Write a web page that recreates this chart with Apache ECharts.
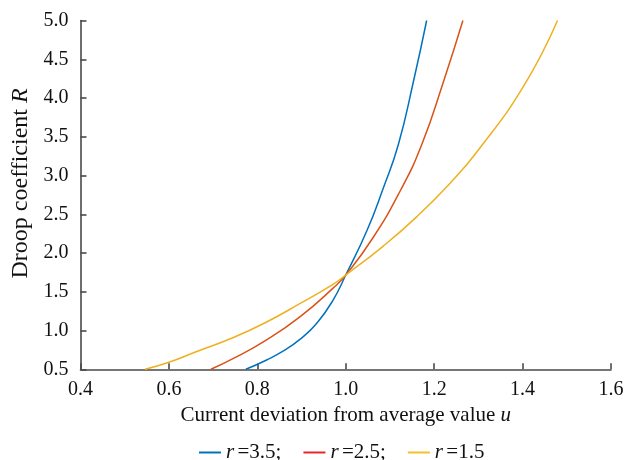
<!DOCTYPE html>
<html>
<head>
<meta charset="utf-8">
<script src="https://cdn.jsdelivr.net/npm/echarts@6/dist/echarts.min.js"></script>
<style>html,body{margin:0;padding:0;background:#fff;}#c{width:630px;height:460px;}</style>
</head>
<body>
<div id="c"></div>
<script>
// u values and R values
const blueU = [0.774, 0.821, 0.86, 0.897, 0.934, 0.972, 1.0, 1.048, 1.085, 1.119, 1.153, 1.183];
const blueR = [0.5, 0.62, 0.74, 0.89, 1.09, 1.40, 1.716, 2.29, 2.84, 3.40, 4.21, 5.0];
const redU = [0.695, 0.746, 0.821, 0.897, 0.972, 1.0, 1.062, 1.123, 1.172, 1.221, 1.265];
const redR = [0.5, 0.64, 0.88, 1.18, 1.55, 1.716, 2.20, 2.80, 3.40, 4.21, 5.0];
const orangeU = [0.546, 0.6, 0.663, 0.746, 0.821, 0.897, 0.972, 1.0, 1.085, 1.161, 1.236, 1.30, 1.402, 1.479];
const orangeR = [0.5, 0.59, 0.73, 0.91, 1.11, 1.35, 1.60, 1.716, 2.09, 2.47, 2.90, 3.33, 4.15, 5.0];
const seriesNames = ['r=3.5', 'r=2.5', 'r=1.5'];
const seriesLabels = ['3.5;', '2.5;', '1.5'];
const colors = ['#0072BD', '#D95319', '#EDB120'];
const legendColors = ['#0072BD', '#E8262A', '#F5C02A'];
const xTicks = {min: 0.4, max: 1.6, interval: 0.2};
const yTicks = {min: 0.5, max: 5.0, interval: 0.5};

const zip = (a, b) => a.map((v, i) => [v, b[i]]);
const datas = [zip(blueU, blueR), zip(redU, redR), zip(orangeU, orangeR)];
const font = 'Liberation Serif';
const axisColor = '#4a4a4a';
const txt = '#111';

const chart = echarts.init(document.getElementById('c'), null, {renderer: 'canvas'});
chart.setOption({
  animation: false,
  backgroundColor: '#fff',
  grid: {left: 80.5, right: 19, top: 20.5, bottom: 90.7, containLabel: false},
  xAxis: {
    type: 'value', min: xTicks.min, max: xTicks.max, interval: xTicks.interval,
    axisLine: {lineStyle: {color: axisColor, width: 1.6}},
    axisTick: {inside: true, length: 6, lineStyle: {color: axisColor, width: 1.6}},
    splitLine: {show: false},
    axisLabel: {color: txt, fontFamily: font, fontSize: 20, margin: 10, formatter: v => v.toFixed(1)},
    name: '{n|Current deviation from average value }{i|u}',
    nameLocation: 'middle', nameGap: 36,
    nameTextStyle: {rich: {
      n: {fontFamily: font, fontSize: 21, color: txt},
      i: {fontFamily: font, fontSize: 21, color: txt, fontStyle: 'italic'}
    }}
  },
  yAxis: {
    type: 'value', min: yTicks.min, max: yTicks.max, interval: yTicks.interval,
    axisLine: {show: true, lineStyle: {color: axisColor, width: 1.6}},
    axisTick: {show: true, inside: true, length: 6, lineStyle: {color: axisColor, width: 1.6}},
    splitLine: {show: false},
    axisLabel: {color: txt, fontFamily: font, fontSize: 20, margin: 12, formatter: v => v.toFixed(1)},
    name: '{n|Droop coefficient }{i|R}',
    nameLocation: 'middle', nameGap: 47, nameRotate: 90,
    nameTextStyle: {padding: [0, 0, 0, 23], rich: {
      n: {fontFamily: font, fontSize: 24, color: txt},
      i: {fontFamily: font, fontSize: 24, color: txt, fontStyle: 'italic'}
    }}
  },
  legend: {
    top: 437, left: 194,
    itemWidth: 22, itemHeight: 2, itemGap: 22,
    icon: 'rect',
    data: seriesNames.map((n, k) => ({name: n, itemStyle: {color: legendColors[k]}})),
    formatter: name => '{i|r} {n|=' + seriesLabels[seriesNames.indexOf(name)] + '}',
    textStyle: {rich: {
      i: {fontFamily: font, fontSize: 21, color: txt, fontStyle: 'italic'},
      n: {fontFamily: font, fontSize: 21, color: txt}
    }}
  },
  series: datas.map((d, k) => ({
    name: seriesNames[k], type: 'line', data: d, smooth: 0.5,
    showSymbol: false, symbol: 'none',
    lineStyle: {color: colors[k], width: 1.5},
    itemStyle: {color: colors[k]}
  }))
});
</script>
</body>
</html>
